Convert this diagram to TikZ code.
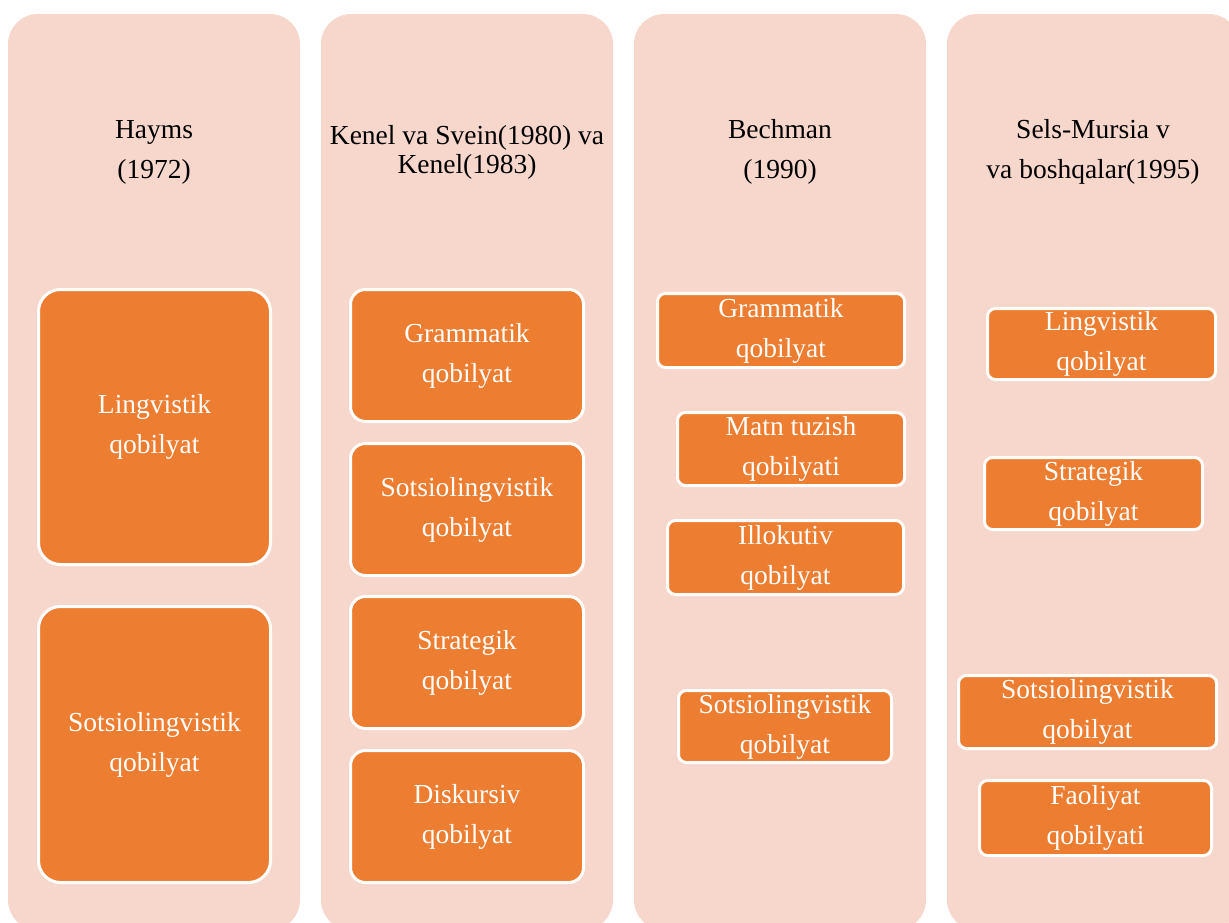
\documentclass[tikz,border=0pt]{standalone}
\usepackage{fontspec}
\setmainfont{Liberation Serif}
\usepackage{xcolor}
\usepackage{tikz}
\definecolor{colPink}{HTML}{F7D6CC}
\definecolor{boxOrange}{HTML}{ED7D31}

\begin{document}
\begin{tikzpicture}[x=1pt,y=-1pt,
  column/.style={fill=colPink, rounded corners=30pt},
  skill/.style={fill=boxOrange, draw=white, line width=3pt, inner sep=0pt},
  skilltext/.style={text=white, align=center, font=\fontsize{27.5}{40}\selectfont},
  head/.style={text=black, align=center, font=\fontsize{27.5}{40}\selectfont}]

\useasboundingbox (0,0) rectangle (1229,923);
\clip (0,0) rectangle (1229,923);

% columns
\fill[column] (8,14) rectangle (300,930);
\fill[column] (321,14) rectangle (613,930);
\fill[column] (634,14) rectangle (926,930);
\fill[column] (947,14) rectangle (1239,930);

% headers
\node[head] (hayms) at (154,152) {Hayms\\(1972)};
\node[head, font=\fontsize{27.5}{29}\selectfont] (kenel) at (467,152) {Kenel va Svein(1980) va\\Kenel(1983)};
\node[head] (bechman) at (780,152) {Bechman\\(1990)};
\node[head] (sels) at (1093,152) {Sels-Mursia v\\va boshqalar(1995)};

% Hayms
\node[skill, rounded corners=22pt, minimum width=232, minimum height=275] (ling1) at (154.5,427) {};
\node[skilltext] (ling1t) at (ling1.center) {Lingvistik\\qobilyat};
\node[skill, rounded corners=22pt, minimum width=232, minimum height=276] (sots1) at (154.5,744.5) {};
\node[skilltext] (sots1t) at (sots1.center) {Sotsiolingvistik\\qobilyat};

% Kenel
\node[skill, rounded corners=15pt, minimum width=233, minimum height=132] (gram2) at (467,355.5) {};
\node[skilltext] (gram2t) at (gram2.center) {Grammatik\\qobilyat};
\node[skill, rounded corners=15pt, minimum width=233, minimum height=132] (sots2) at (467,509.5) {};
\node[skilltext] (sots2t) at (sots2.center) {Sotsiolingvistik\\qobilyat};
\node[skill, rounded corners=15pt, minimum width=233, minimum height=132] (stra2) at (467,662.5) {};
\node[skilltext] (stra2t) at (stra2.center) {Strategik\\qobilyat};
\node[skill, rounded corners=15pt, minimum width=233, minimum height=132] (disk2) at (467,816.5) {};
\node[skilltext] (disk2t) at (disk2.center) {Diskursiv\\qobilyat};

% Bechman
\node[skill, rounded corners=8pt, minimum width=247, minimum height=74] (gram3) at (781,330.5) {};
\node[skilltext] (gram3t) at (gram3.center) {Grammatik\\qobilyat};
\node[skill, rounded corners=8pt, minimum width=227, minimum height=73] (matn3) at (791,449) {};
\node[skilltext] (matn3t) at (matn3.center) {Matn tuzish\\qobilyati};
\node[skill, rounded corners=8pt, minimum width=236, minimum height=74] (illo3) at (785.5,557.5) {};
\node[skilltext] (illo3t) at (illo3.center) {Illokutiv\\qobilyat};
\node[skill, rounded corners=8pt, minimum width=213, minimum height=72] (sots3) at (785,726.5) {};
\node[skilltext] (sots3t) at (sots3.center) {Sotsiolingvistik\\qobilyat};

% Sels-Mursia
\node[skill, rounded corners=8pt, minimum width=228, minimum height=71] (ling4) at (1101.5,344) {};
\node[skilltext] (ling4t) at (ling4.center) {Lingvistik\\qobilyat};
\node[skill, rounded corners=8pt, minimum width=218, minimum height=72] (stra4) at (1093.5,493.5) {};
\node[skilltext] (stra4t) at (stra4.center) {Strategik\\qobilyat};
\node[skill, rounded corners=8pt, minimum width=258, minimum height=73] (sots4) at (1087.5,712) {};
\node[skilltext] (sots4t) at (sots4.center) {Sotsiolingvistik\\qobilyat};
\node[skill, rounded corners=8pt, minimum width=232, minimum height=75] (faol4) at (1095.5,818) {};
\node[skilltext] (faol4t) at (faol4.center) {Faoliyat\\qobilyati};
\end{tikzpicture}
\end{document}
